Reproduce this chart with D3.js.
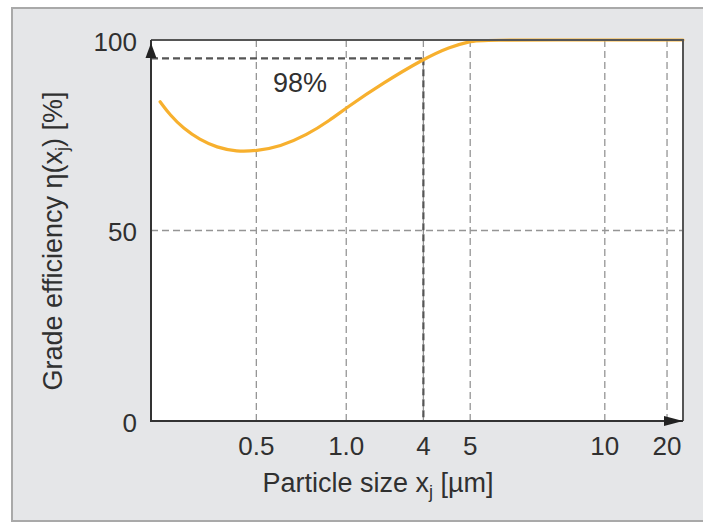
<!DOCTYPE html>
<html>
<head>
<meta charset="utf-8">
<script src="https://cdn.jsdelivr.net/npm/d3@7"></script>
<style>
  html, body { margin: 0; padding: 0; background: #fff; }
  svg { display: block; font-family: "Liberation Sans", Arial, Helvetica, sans-serif; }
</style>
</head>
<body>
<svg id="chart" width="703" height="525"></svg>
<script>
// particle size axis (non-uniform, as printed)
const xTickValues = [0.5, 1.0, 4, 5, 10, 20];
const xTickLabels = ["0.5", "1.0", "4", "5", "10", "20"];
const xExtent = [0.2, 22.6];

const yTickValues = [0, 50, 100];
const yGridValues = [50];

// grade efficiency curve
const sizes = [0.226, 0.254, 0.292, 0.339, 0.387, 0.444, 0.5, 0.631, 0.782, 0.911, 1.0, 2.43, 4.0, 4.56, 5.0, 5.35, 10, 20, 22.6];
const efficiency = [83.8, 80.3, 76.8, 73.8, 71.8, 70.7, 70.9, 72.0, 75.1, 79.0, 82.2, 88.7, 95.0, 98.2, 99.6, 100, 100, 100, 100];

// marked cut: line drawn at this height, labelled 98%
const refSize = 4;
const refLevel = 95.2;
const refLabel = "98%";

const svg = d3.select("#chart");
const width = 703;
const plot = { left: 151, top: 40, right: 683, bottom: 421 };
const textColor = "#303030";

// where each printed tick sits along the axis (fraction of the width)
const tickFractions = [0, 0.198, 0.367, 0.512, 0.6, 0.853, 0.97, 1];

const x = d3
  .scaleLinear()
  .domain([xExtent[0], ...xTickValues, xExtent[1]])
  .range(tickFractions.map((f) => plot.left + f * (plot.right - plot.left)));

const y = d3.scaleLinear().domain([0, 100]).range([plot.bottom, plot.top]);

// grey panel behind everything
svg
  .append("rect")
  .attr("x", 12)
  .attr("y", 8)
  .attr("width", width)
  .attr("height", 513)
  .attr("fill", "#e5e6e8")
  .attr("stroke", "#a9a9a9")
  .attr("stroke-width", 2);

svg
  .append("rect")
  .attr("x", plot.left)
  .attr("y", plot.top)
  .attr("width", plot.right - plot.left)
  .attr("height", plot.bottom - plot.top)
  .attr("fill", "#fff");

// grid
const grid = svg.append("g").attr("stroke", "#959595").attr("stroke-width", 1.3).attr("stroke-dasharray", "7,4");

grid
  .selectAll(".vgrid")
  .data(xTickValues)
  .join("line")
  .attr("x1", (d) => x(d))
  .attr("x2", (d) => x(d))
  .attr("y1", y(0))
  .attr("y2", y(100));

grid
  .selectAll(".hgrid")
  .data(yGridValues)
  .join("line")
  .attr("x1", plot.left)
  .attr("x2", plot.right)
  .attr("y1", (d) => y(d))
  .attr("y2", (d) => y(d));

// reference lines for the marked cut
const ref = svg.append("g").attr("stroke", "#555").attr("stroke-width", 2.2).attr("stroke-dasharray", "7,4");

ref
  .append("line")
  .attr("x1", plot.left)
  .attr("x2", x(refSize))
  .attr("y1", y(refLevel))
  .attr("y2", y(refLevel));

ref
  .append("line")
  .attr("x1", x(refSize))
  .attr("x2", x(refSize))
  .attr("y1", y(refLevel))
  .attr("y2", y(0));

// curve
const points = sizes.map((s, i) => [s, efficiency[i]]);

const line = d3
  .line()
  .x((d) => x(d[0]))
  .y((d) => y(d[1]))
  .curve(d3.curveBasis);

svg
  .append("path")
  .datum(points)
  .attr("d", line)
  .attr("fill", "none")
  .attr("stroke", "#f7b02e")
  .attr("stroke-width", 3.2)
  .attr("stroke-linecap", "round");

// frame: top and right
svg
  .append("path")
  .attr("d", `M${plot.left},${plot.top}H${plot.right}V${plot.bottom}`)
  .attr("fill", "none")
  .attr("stroke", "#555")
  .attr("stroke-width", 2);

// axes with arrows
svg
  .append("path")
  .attr("d", `M${plot.left},${plot.top}V${plot.bottom}H${plot.right}`)
  .attr("fill", "none")
  .attr("stroke", "#333")
  .attr("stroke-width", 2);

svg
  .append("path")
  .attr("d", `M${plot.left},${plot.top + 3}L${plot.left + 5.5},${plot.top + 18}L${plot.left - 5.5},${plot.top + 18}Z`)
  .attr("fill", "#222");

svg
  .append("path")
  .attr("d", `M${plot.right},${plot.bottom}L${plot.right - 19},${plot.bottom - 5}L${plot.right - 19},${plot.bottom + 5}Z`)
  .attr("fill", "#222");

// tick labels
svg
  .selectAll(".ytick")
  .data(yTickValues)
  .join("text")
  .attr("x", 137)
  .attr("y", (d) => y(d))
  .attr("dy", "0.42em")
  .attr("text-anchor", "end")
  .attr("font-size", 26)
  .attr("fill", textColor)
  .text((d) => d);

svg
  .selectAll(".xtick")
  .data(xTickValues)
  .join("text")
  .attr("x", (d) => x(d))
  .attr("y", 455)
  .attr("text-anchor", "middle")
  .attr("font-size", 26)
  .attr("fill", textColor)
  .text((d, i) => xTickLabels[i]);

// axis titles
const xTitle = svg
  .append("text")
  .attr("x", 378)
  .attr("y", 492)
  .attr("text-anchor", "middle")
  .attr("font-size", 27)
  .attr("fill", textColor);
xTitle.append("tspan").text("Particle size x");
xTitle.append("tspan").attr("font-size", 18).attr("dy", 6).text("j");
xTitle.append("tspan").attr("dy", -6).text(" [\u00b5m]");

const yTitle = svg
  .append("text")
  .attr("transform", "translate(62,241) rotate(-90)")
  .attr("text-anchor", "middle")
  .attr("font-size", 27)
  .attr("fill", textColor);
yTitle.append("tspan").text("Grade efficiency \u03b7(x");
yTitle.append("tspan").attr("font-size", 18).attr("dy", 6).text("j");
yTitle.append("tspan").attr("dy", -6).text(") [%]");

svg
  .append("text")
  .attr("x", 273)
  .attr("y", 92)
  .attr("font-size", 27)
  .attr("fill", textColor)
  .text(refLabel);
</script>
</body>
</html>
